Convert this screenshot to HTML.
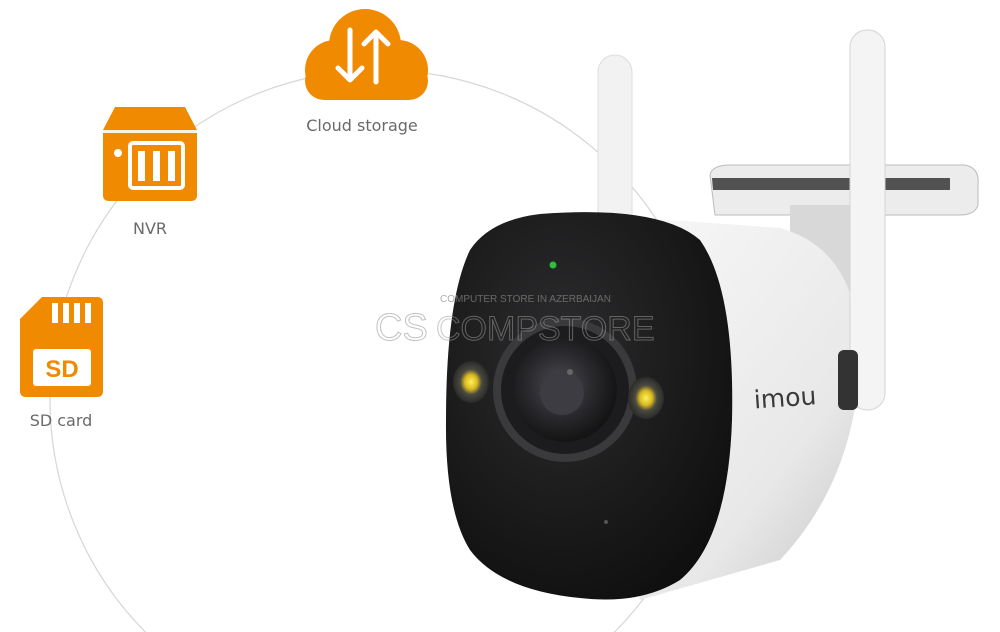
<!DOCTYPE html>
<html><head><meta charset="utf-8"><style>
html,body{margin:0;padding:0;background:#fff;width:1000px;height:632px;overflow:hidden}
svg{display:block;overflow:hidden}
</style></head><body>
<svg width="1000" height="632" viewBox="0 0 1000 632" xmlns="http://www.w3.org/2000/svg">
<defs>
<radialGradient id="face" cx="40%" cy="35%" r="75%"><stop offset="0" stop-color="#2c2c2e"/><stop offset="1" stop-color="#0e0e0e"/></radialGradient>
<linearGradient id="body" x1="0" y1="0" x2="1" y2="1"><stop offset="0" stop-color="#fbfbfb"/><stop offset="0.7" stop-color="#e8e8e8"/><stop offset="1" stop-color="#c4c4c4"/></linearGradient>
<radialGradient id="lens" cx="45%" cy="45%" r="55%"><stop offset="0" stop-color="#4a4a50"/><stop offset="0.6" stop-color="#28282c"/><stop offset="1" stop-color="#141414"/></radialGradient>
<radialGradient id="led" cx="50%" cy="50%" r="50%"><stop offset="0" stop-color="#fff25a"/><stop offset="0.35" stop-color="#d8b820"/><stop offset="0.6" stop-color="#4a4a40"/><stop offset="1" stop-color="#2a2a2a"/></radialGradient>
</defs>
<circle cx="380" cy="400" r="330" fill="none" stroke="#d6d6d6" stroke-width="1.2"/>

<g fill="#f08a00">
<circle cx="335" cy="70" r="30"/><circle cx="365" cy="45" r="36"/><circle cx="398" cy="70" r="30"/>
<rect x="305" y="62" width="123" height="38" rx="19"/>
</g>
<g stroke="#fff" stroke-width="5" fill="none" stroke-linecap="round" stroke-linejoin="round">
<path d="M350 30 V80 M338 68 L350 80 L362 68"/><path d="M376 82 V32 M364 44 L376 32 L388 44"/>
</g>
<text x="362" y="131" font-family="DejaVu Sans,sans-serif" font-size="16" fill="#6a6a6a" text-anchor="middle">Cloud storage</text>

<path d="M115 107 H185 L197 130 V195 Q197 201 191 201 H109 Q103 201 103 195 V130 Z" fill="#f08a00"/>
<rect x="103" y="130" width="94" height="3" fill="#fff" opacity="0.9"/>
<circle cx="118" cy="153" r="4" fill="#fff"/>
<g fill="none" stroke="#fff" stroke-width="4"><rect x="130" y="143" width="53" height="45" rx="3"/></g>
<g fill="#fff"><rect x="138" y="151" width="7" height="30"/><rect x="153" y="151" width="7" height="30"/><rect x="168" y="151" width="7" height="30"/></g>
<text x="150" y="234" font-family="DejaVu Sans,sans-serif" font-size="16" fill="#6a6a6a" text-anchor="middle">NVR</text>

<path d="M42 297 H97 Q103 297 103 303 V391 Q103 397 97 397 H26 Q20 397 20 391 V319 Z" fill="#f08a00"/>
<g fill="#fff"><rect x="52" y="303" width="6" height="20"/><rect x="63" y="303" width="6" height="20"/><rect x="74" y="303" width="6" height="20"/><rect x="85" y="303" width="6" height="20"/></g>
<rect x="33" y="349" width="58" height="37" rx="3" fill="#fff"/>
<text x="62" y="377" font-family="Liberation Sans,sans-serif" font-weight="bold" font-size="24" fill="#f08a00" text-anchor="middle">SD</text>
<text x="61" y="426" font-family="DejaVu Sans,sans-serif" font-size="16" fill="#6a6a6a" text-anchor="middle">SD card</text>

<rect x="598" y="55" width="34" height="190" rx="17" fill="#f2f2f2" stroke="#ddd"/>
<path d="M710 175 Q712 165 730 165 H965 Q980 168 978 185 V205 Q975 215 960 215 H715 Z" fill="#ececec" stroke="#bbb"/>
<path d="M712 178 H950 V190 H713 Z" fill="#2a2a2a" opacity="0.8"/>
<rect x="790" y="205" width="60" height="90" fill="#d8d8d8"/>
<path d="M560 212 L780 228 Q860 250 860 360 Q855 480 780 560 L640 600 Z" fill="url(#body)"/>
<rect x="850" y="30" width="35" height="380" rx="17" fill="#f4f4f4" stroke="#d4d4d4"/>
<rect x="838" y="350" width="20" height="60" rx="6" fill="#333"/>
<path d="M540 214 Q660 205 700 240 Q735 290 732 420 Q728 540 680 580 Q640 605 580 598 Q500 590 470 550 Q445 510 446 420 Q446 300 470 250 Q490 220 540 214 Z" fill="url(#face)"/>
<circle cx="553" cy="265" r="3.5" fill="#2bbf3b"/>
<circle cx="565" cy="390" r="72" fill="#3a3a3c"/>
<circle cx="565" cy="390" r="64" fill="#1c1c1e"/>
<circle cx="565" cy="390" r="52" fill="url(#lens)"/>
<circle cx="562" cy="393" r="22" fill="#3c3c42"/>
<circle cx="570" cy="372" r="3" fill="#666"/>
<ellipse cx="471" cy="382" rx="18" ry="21" fill="url(#led)"/>
<ellipse cx="646" cy="398" rx="18" ry="21" fill="url(#led)"/>
<circle cx="606" cy="522" r="2" fill="#555"/>
<text x="754" y="406" font-family="DejaVu Sans,sans-serif" font-size="25" fill="#3a3a3a" transform="rotate(-4 790 400)">imou</text>

<text x="375" y="340" font-family="Liberation Sans,sans-serif" font-size="38" fill="none" stroke="#999" stroke-width="1" opacity="0.6">CS</text>
<text x="440" y="302" font-family="Liberation Sans,sans-serif" font-size="10" fill="#888" opacity="0.7">COMPUTER STORE IN AZERBAIJAN</text>
<text x="436" y="340" font-family="Liberation Sans,sans-serif" font-size="34" fill="none" stroke="#999" stroke-width="1" opacity="0.55">COMPSTORE</text>
</svg>
</body></html>
